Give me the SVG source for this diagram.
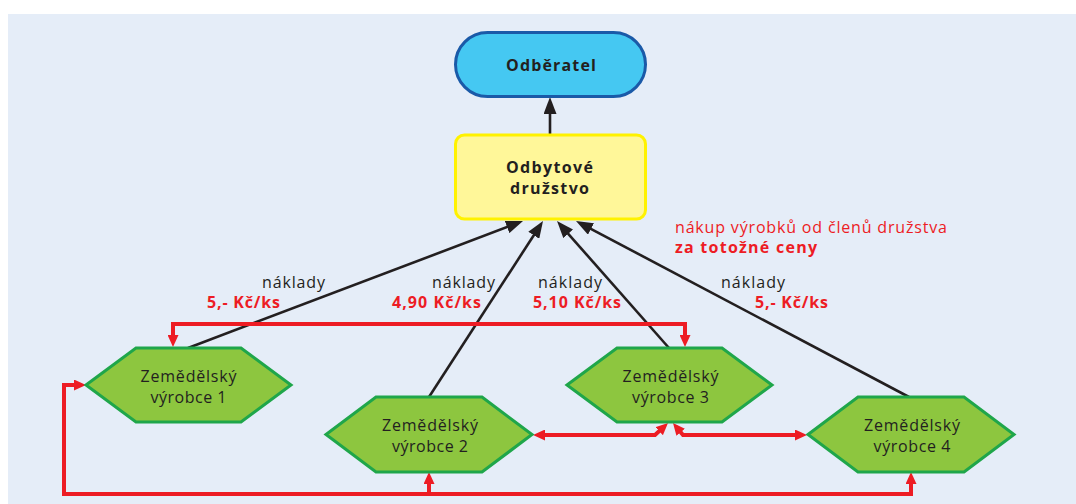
<svg xmlns="http://www.w3.org/2000/svg" width="1076" height="504" viewBox="0 0 1076 504">
<style>
.t{font-family:"Open Sans","Noto Sans","Liberation Sans",sans-serif;font-size:16px;fill:#231f20}
.b{font-weight:bold}
.c{text-anchor:middle}
.r{fill:#ed1c24}
.hex{fill:#8dc63f;stroke:#1fa64a;stroke-width:3;stroke-linejoin:miter}
.blk{fill:none;stroke:#231f20;stroke-width:2.6;marker-end:url(#ab)}
.red{fill:none;stroke:#ed1c24;stroke-width:4;stroke-linejoin:miter}
</style>
<defs>
<marker id="ab" markerUnits="userSpaceOnUse" markerWidth="17" markerHeight="13" refX="12" refY="6.5" orient="auto">
<path d="M0,0 L17,6.5 L0,13 z" fill="#231f20"/>
</marker>
<marker id="ar" markerUnits="userSpaceOnUse" markerWidth="12" markerHeight="11" refX="7" refY="5.5" orient="auto-start-reverse">
<path d="M0,0 L12,5.5 L0,11 z" fill="#ed1c24"/>
</marker>
</defs>
<rect x="0" y="0" width="1076" height="504" fill="#ffffff"/>
<rect x="8" y="14" width="1068" height="490" fill="#e5edf8"/>

<g id="connectors">
<path class="blk" d="M550,134 L550,102"/>
<path class="blk" d="M188,348 L518.3,222.8"/>
<path class="blk" d="M429,397 L540.3,225.2"/>
<path class="blk" d="M669,348 L560.3,224.8"/>
<path class="blk" d="M909,397 L580.4,223.3"/>
<path class="red" d="M173,342 L173,324 L685,324 L685,342" marker-start="url(#ar)" marker-end="url(#ar)"/>
<path class="red" d="M81,385 L64,385 L64,494 L911,494 L911,477" marker-start="url(#ar)" marker-end="url(#ar)"/>
<path class="red" d="M429,494 L429,477" marker-end="url(#ar)"/>
<path class="red" d="M538,435 L655,435 L664.3,426.4" marker-start="url(#ar)" marker-end="url(#ar)"/>
<path class="red" d="M676.2,426.8 L683,435 L802,435" marker-start="url(#ar)" marker-end="url(#ar)"/>
</g>

<g id="odberatel">
<rect x="455.5" y="32.5" width="190" height="64" rx="32" fill="#45c8f2" stroke="#1a5aa8" stroke-width="3"/>
<text class="t b c" x="551" y="71" textLength="90" lengthAdjust="spacing">Odběratel</text>
</g>

<g id="druzstvo">
<rect x="455.5" y="135" width="190" height="84" rx="9" fill="#fff799" stroke="#fff200" stroke-width="3"/>
<text class="t b c" x="549.5" y="173" textLength="87" lengthAdjust="spacing">Odbytové</text>
<text class="t b c" x="549.5" y="194" textLength="79" lengthAdjust="spacing">družstvo</text>
</g>

<g id="vyrobce1">
<polygon class="hex" points="86,385 136,348 241,348 291,385 241,422 136,422"/>
<text class="t c" x="188.5" y="382" textLength="96" lengthAdjust="spacing">Zemědělský</text>
<text class="t c" x="188.5" y="403" textLength="76" lengthAdjust="spacing">výrobce 1</text>
</g>

<g id="vyrobce2">
<polygon class="hex" points="326,434.5 376,397 482,397 532,434.5 482,472 376,472"/>
<text class="t c" x="430" y="431" textLength="96" lengthAdjust="spacing">Zemědělský</text>
<text class="t c" x="430" y="452" textLength="76" lengthAdjust="spacing">výrobce 2</text>
</g>

<g id="vyrobce3">
<polygon class="hex" points="567,385 617,348 722,348 772,385 722,422 617,422"/>
<text class="t c" x="670.5" y="382" textLength="96" lengthAdjust="spacing">Zemědělský</text>
<text class="t c" x="670.5" y="403" textLength="77" lengthAdjust="spacing">výrobce 3</text>
</g>

<g id="vyrobce4">
<polygon class="hex" points="808,434.5 858,397 964,397 1014,434.5 964,472 858,472"/>
<text class="t c" x="912" y="431" textLength="96" lengthAdjust="spacing">Zemědělský</text>
<text class="t c" x="912" y="452" textLength="77" lengthAdjust="spacing">výrobce 4</text>
</g>

<g id="labels">
<text class="t" x="262" y="288" textLength="63" lengthAdjust="spacing">náklady</text>
<text class="t b r" x="207" y="308" textLength="73" lengthAdjust="spacing">5,- Kč/ks</text>
<text class="t" x="432" y="288" textLength="63" lengthAdjust="spacing">náklady</text>
<text class="t b r" x="392" y="308" textLength="89" lengthAdjust="spacing">4,90 Kč/ks</text>
<text class="t" x="538" y="288" textLength="64" lengthAdjust="spacing">náklady</text>
<text class="t b r" x="533" y="308" textLength="88" lengthAdjust="spacing">5,10 Kč/ks</text>
<text class="t" x="721" y="288" textLength="64" lengthAdjust="spacing">náklady</text>
<text class="t b r" x="755" y="308" textLength="73" lengthAdjust="spacing">5,- Kč/ks</text>
<text class="t r" x="675" y="233" textLength="272" lengthAdjust="spacing">nákup výrobků od členů družstva</text>
<text class="t b r" x="675" y="253" textLength="142" lengthAdjust="spacing">za totožné ceny</text>
</g>
</svg>
